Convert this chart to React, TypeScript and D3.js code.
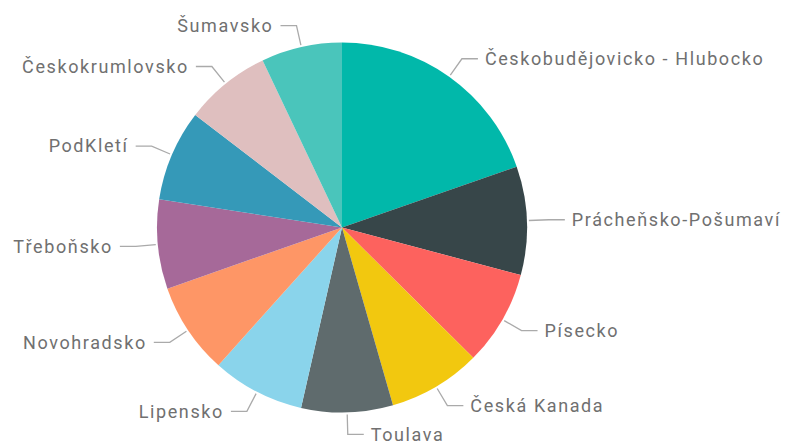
import React from "react";
import * as d3 from "d3";

const categories = [
  "Českobudějovicko - Hlubocko",
  "Prácheňsko-Pošumaví",
  "Písecko",
  "Česká Kanada",
  "Toulava",
  "Lipensko",
  "Novohradsko",
  "Třeboňsko",
  "PodKletí",
  "Českokrumlovsko",
  "Šumavsko",
];
const values = [70.8, 34.1, 29.9, 29.2, 28.8, 29.1, 28.8, 28.1, 28.7, 27.1, 25.4];
const colors = [
  "#01B8AA", "#374649", "#FD625E", "#F2C80F", "#5F6B6D", "#8AD4EB",
  "#FE9666", "#A66999", "#3599B8", "#DFBFBF", "#4AC5BB",
];

const W = 789;
const H = 445;
const CX = 342;
const CY = 227.5;
const R = 185;

export default function App() {
  const data = categories.map((c, i) => ({ name: c, value: values[i], color: colors[i] }));
  const pie = d3.pie<any>().value((d: any) => d.value).sort(null);
  const arcs = pie(data);
  const arc = d3.arc<any>().innerRadius(0).outerRadius(R);

  return (
    <div style={{ position: "fixed", left: 0, top: 0 }}>
      <svg width={W} height={H} style={{ display: "block", background: "#fff" }}>
        <g transform={`translate(${CX},${CY})`}>
          {arcs.map((a, i) => (
            <path key={i} d={arc(a) as string} fill={a.data.color} />
          ))}
          {arcs.map((a, i) => {
            const mid = (a.startAngle + a.endAngle) / 2;
            const s = Math.sin(mid);
            const c = -Math.cos(mid);
            const right = s >= 0;
            const x1 = s * (R + 2);
            const y1 = c * (R + 2);
            const x2 = s * (R + 22);
            const y2 = c * (R + 22);
            const x3 = x2 + (right ? 16 : -16);
            const tx = x3 + (right ? 7 : -7);
            return (
              <g key={"l" + i}>
                <polyline
                  points={`${x1},${y1} ${x2},${y2} ${x3},${y2}`}
                  fill="none"
                  stroke="#aaa"
                  strokeWidth={1.3}
                />
                <text
                  x={tx}
                  y={y2}
                  dy="0.35em"
                  textAnchor={right ? "start" : "end"}
                  fontFamily="Roboto, sans-serif"
                  fontSize={18}
                  letterSpacing={1.6}
                  fill="#707070"
                >
                  {a.data.name}
                </text>
              </g>
            );
          })}
        </g>
      </svg>
    </div>
  );
}
